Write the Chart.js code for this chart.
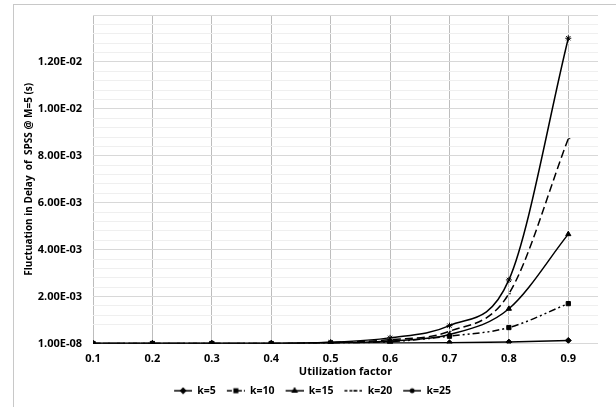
<!DOCTYPE html>
<html>
<head>
<meta charset="utf-8">
<script src="https://cdn.jsdelivr.net/npm/chart.js@4.4.1/dist/chart.umd.min.js"></script>
<style>
  html, body { margin: 0; padding: 0; background: #fff; overflow: hidden; }
  #frame { position: absolute; left: 13px; top: 4px; width: 640px; height: 440px; border: 1px solid #c8c8c8; }
  #wrap { position: absolute; left: 14px; top: 5px; width: 602px; height: 402px; }
</style>
</head>
<body>
<div id="frame"></div>
<div id="wrap"><canvas id="fluctChart"></canvas></div>
<script>
// utilization factor (x) and delay fluctuation per k
const xValues = [0.1, 0.2, 0.3, 0.4, 0.5, 0.6, 0.7, 0.8, 0.9];
const k5  = [1e-8, 1e-8, 1e-8, 1e-8, 0.00001, 0.00002, 0.00003, 0.00006, 0.00013];
const k10 = [1e-8, 1e-8, 1e-8, 1e-8, 0.00002, 0.00008, 0.00031, 0.00068, 0.0017];
const k15 = [1e-8, 1e-8, 1e-8, 1e-8, 0.00003, 0.00011, 0.00038, 0.00148, 0.00466];
const k20 = [1e-8, 1e-8, 1e-8, 1e-8, 0.00004, 0.00016, 0.00052, 0.00212, 0.00873];
const k25 = [1e-8, 1e-8, 1e-8, 1e-8, 0.00005, 0.00024, 0.00076, 0.00271, 0.01301];
const seriesNames = ["k=5", "k=10", "k=15", "k=20", "k=25"];
const yMax = 0.014;

const toPts = arr => arr.map((v, i) => ({ x: xValues[i], y: v }));

// excel style 1.20E-02
function sci(v) {
  let s = v.toExponential(2).toUpperCase();
  return s.replace(/E([+-])(\d)$/, "E$10$2");
}

const styles = [
  { pointStyle: "rectRot", radius: 3, dash: [], legDash: [] },
  { pointStyle: "rect", radius: 3, dash: [7, 3, 2, 3, 2, 3], legDash: [5, 2, 1, 2] },
  { pointStyle: "triangle", radius: 3, dash: [], legDash: [] },
  { pointStyle: "dash", radius: 2, dash: [8, 4], legDash: [3, 2] },
  { pointStyle: "star", radius: 3, dash: [], legDash: [] }
];
const allData = [k5, k10, k15, k20, k25];

// little line+marker image for the legend (left part left blank as gap)
function legendIcon(st) {
  const c = document.createElement("canvas");
  c.width = 26; c.height = 8;
  const g = c.getContext("2d");
  g.strokeStyle = "#000";
  g.lineWidth = 1.5;
  g.setLineDash(st.legDash);
  g.beginPath(); g.moveTo(8, 4); g.lineTo(26, 4); g.stroke();
  g.setLineDash([]);
  g.fillStyle = "#000";
  Chart.helpers.drawPoint(g, { pointStyle: st.pointStyle, radius: 2.5, rotation: 0, borderWidth: 1 }, 17, 4);
  return c;
}

const datasets = allData.map((arr, i) => ({
  label: seriesNames[i],
  data: toPts(arr),
  borderColor: "#000",
  backgroundColor: "#000",
  borderWidth: 1.5,
  borderDash: styles[i].dash,
  pointStyle: styles[i].pointStyle,
  pointRadius: styles[i].radius,
  pointBorderWidth: 1,
  cubicInterpolationMode: "monotone",
  fill: false
}));

const tickFont = { family: "'Open Sans', sans-serif", size: 11, weight: "bold" };

new Chart(document.getElementById("fluctChart"), {
  type: "line",
  data: { datasets: datasets },
  options: {
    responsive: true,
    maintainAspectRatio: false,
    animation: false,
    layout: { padding: { left: 5, right: 18, top: 10, bottom: 1 } },
    plugins: {
      tooltip: { enabled: false },
      legend: {
        position: "bottom",
        labels: {
          color: "#000",
          font: { family: "'Open Sans', sans-serif", size: 10.5, weight: "bold" },
          usePointStyle: true,
          pointStyleWidth: 26,
          boxHeight: 8,
          padding: 3,
          generateLabels: chart => chart.data.datasets.map((ds, i) => ({
            text: ds.label,
            pointStyle: legendIcon(styles[i]),
            fillStyle: "#000",
            strokeStyle: "#000",
            lineWidth: 0,
            fontColor: "#000",
            datasetIndex: i
          }))
        }
      }
    },
    scales: {
      x: {
        type: "linear",
        min: 0.1,
        max: 0.95,
        afterBuildTicks: s => { s.ticks = xValues.map(v => ({ value: v })); },
        afterFit: s => { s.height = 39; },
        ticks: {
          color: "#000",
          font: tickFont,
          padding: 9,
          callback: v => v.toFixed(1)
        },
        grid: {
          drawTicks: false,
          color: "#bdbdbd",
          tickBorderDash: [2, 2]
        },
        border: { display: false },
        title: {
          display: true,
          text: "Utilization factor",
          color: "#000",
          font: { family: "'Open Sans', sans-serif", size: 11, weight: "bold" },
          padding: { top: 0, bottom: 4 }
        }
      },
      y: {
        min: 1e-8,
        max: yMax,
        afterFit: s => { s.width = 74; s.paddingTop = 0; s.paddingBottom = 0; },
        ticks: {
          stepSize: 0.0004,
          autoSkip: false,
          color: "#000",
          font: tickFont,
          padding: 11,
          callback: v => {
            if (v >= yMax - 1e-6) return "";
            const r = v / 0.002;
            if (Math.abs(r - Math.round(r)) < 1e-3) return sci(v);
            return "";
          }
        },
        grid: {
          drawTicks: false,
          color: c => {
            const v = c.tick ? c.tick.value : 0;
            const r = v / 0.002;
            return Math.abs(r - Math.round(r)) < 1e-3 ? "#d8d8d8" : "#efefef";
          }
        },
        border: { display: false },
        title: {
          display: true,
          text: "Fluctuation in Delay  of  SPSS @ M=5 (s)",
          color: "#000",
          font: { family: "'Open Sans', sans-serif", size: 10, weight: "bold" },
          padding: { top: 4, bottom: 4 }
        }
      }
    }
  }
});
</script>
</body>
</html>
